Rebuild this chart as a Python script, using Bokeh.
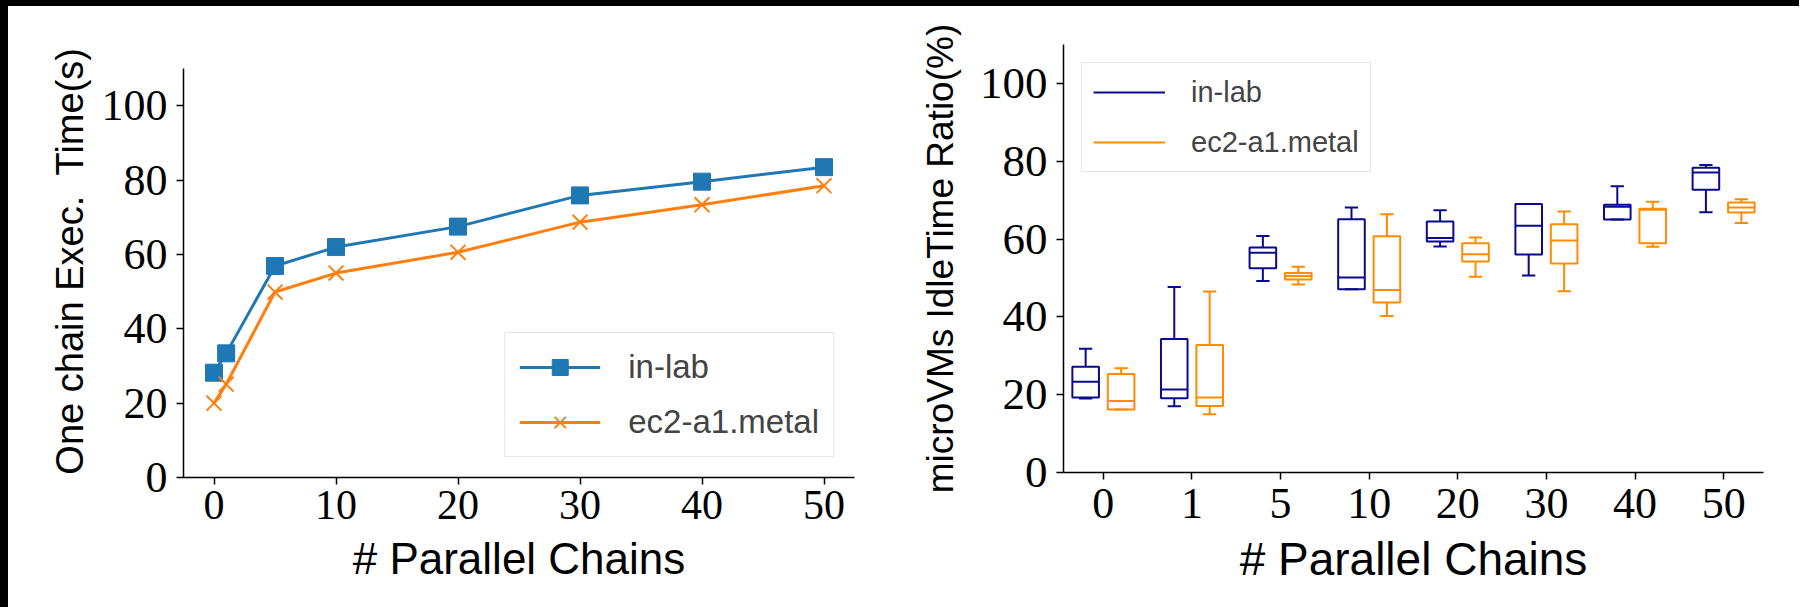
import numpy as np
from bokeh.plotting import figure
from bokeh.models import Range1d, FixedTicker, Legend, LegendItem, ColumnDataSource
from bokeh.layouts import row
from bokeh.embed import file_html
from bokeh.resources import INLINE

# ---------------- data ----------------
# Left chart: one chain execution time (s)
chains = [0, 1, 5, 10, 20, 30, 40, 50]
inlab_time = [28.2, 33.4, 56.9, 62.0, 67.5, 75.9, 79.6, 83.5]
ec2_time = [20.0, 25.1, 49.9, 55.0, 60.6, 68.7, 73.4, 78.5]

# Right chart: microVMs idle time ratio (%) box statistics
categories = ["0", "1", "5", "10", "20", "30", "40", "50"]
inlab_min = [19.0, 17.0, 49.2, 47.1, 58.1, 50.6, 65.0, 66.9]
inlab_q1 = [19.3, 19.1, 52.5, 47.1, 59.4, 56.0, 65.0, 72.7]
inlab_med = [23.3, 21.3, 56.5, 50.1, 60.3, 63.4, 68.3, 77.1]
inlab_q3 = [27.2, 34.3, 57.8, 65.1, 64.5, 69.0, 68.8, 78.3]
inlab_max = [31.8, 47.7, 60.8, 68.1, 67.4, 69.0, 73.6, 79.0]

ec2_min = [16.2, 15.0, 48.3, 40.2, 50.3, 46.6, 58.0, 64.1]
ec2_q1 = [16.2, 17.1, 49.6, 43.7, 54.2, 53.7, 58.9, 66.8]
ec2_med = [18.4, 19.3, 50.5, 46.9, 56.1, 59.6, 67.5, 68.1]
ec2_q3 = [25.3, 32.8, 51.3, 60.7, 58.9, 63.8, 67.8, 69.4]
ec2_max = [26.8, 46.5, 52.9, 66.4, 60.4, 67.1, 69.6, 70.2]

y_ticks = [0, 20, 40, 60, 80, 100]
x_ticks_left = [0, 10, 20, 30, 40, 50]

SERIF = "Liberation Serif"
SANS = "Liberation Sans"


def style_axes(p, tick_size_x, tick_size_y, xlabel_size, ylabel_size, ylabel_standoff, xlabel_standoff):
    for ax in (p.xaxis[0], p.yaxis[0]):
        ax.axis_line_width = 1.5
        ax.axis_line_color = "black"
        ax.major_tick_line_width = 1.5
        ax.major_tick_line_color = "black"
        ax.major_tick_out = 7
        ax.major_tick_in = 0
        ax.minor_tick_line_color = None
        ax.major_label_text_font = SERIF
        ax.major_label_text_color = "black"
        ax.axis_label_text_font = SANS
        ax.axis_label_text_font_style = "normal"
        ax.axis_label_text_color = "black"
    p.xaxis[0].major_label_text_font_size = tick_size_x
    p.yaxis[0].major_label_text_font_size = tick_size_y
    p.xaxis[0].axis_label_text_font_size = xlabel_size
    p.yaxis[0].axis_label_text_font_size = ylabel_size
    p.xaxis[0].major_label_standoff = 6
    p.yaxis[0].major_label_standoff = 9
    p.yaxis[0].axis_label_standoff = ylabel_standoff
    p.xaxis[0].axis_label_standoff = xlabel_standoff
    p.xgrid.visible = False
    p.ygrid.visible = False
    p.outline_line_color = None


TOP = 38

# ---------------- left figure ----------------
p1 = figure(frame_width=671, frame_height=433,
            min_border_left=175, min_border_right=60,
            min_border_top=TOP, min_border_bottom=130,
            x_range=Range1d(-2.5, 52.5), y_range=Range1d(0, 116.5),
            output_backend="svg", toolbar_location=None,
            x_axis_label="# Parallel Chains", y_axis_label="One chain Exec.\u00a0 Time(s)")
p1.xaxis.ticker = FixedTicker(ticks=x_ticks_left)
p1.yaxis.ticker = FixedTicker(ticks=y_ticks)
p1.yaxis.bounds = (0, 110)
style_axes(p1, "42px", "44px", "44px", "38px", 8, 12)

BLUE = "#1f77b4"
ORANGE = "#ff7f0e"
l1 = p1.line(chains, inlab_time, line_color=BLUE, line_width=3)
s1 = p1.scatter(chains, inlab_time, marker="square", size=17, fill_color=BLUE, line_color=BLUE)
l2 = p1.line(chains, ec2_time, line_color=ORANGE, line_width=3)
s2 = p1.scatter(chains, ec2_time, marker="x", size=21, line_color=ORANGE, line_width=2)

leg1 = Legend(items=[LegendItem(label="in-lab", renderers=[l1, s1]),
                     LegendItem(label="ec2-a1.metal", renderers=[l2, s2])],
              location="bottom_right", margin=20,
              label_text_font=SANS, label_text_font_size="33px",
              glyph_width=81, glyph_height=40, label_height=40,
              spacing=15, padding=14, label_standoff=28,
              border_line_color="#cccccc", border_line_width=1.5,
              background_fill_color="white", background_fill_alpha=0.9)
p1.add_layout(leg1)

# ---------------- right figure ----------------
pos = np.arange(1, len(categories) + 1)
p2 = figure(frame_width=700, frame_height=428,
            min_border_left=149, min_border_right=36,
            min_border_top=TOP, min_border_bottom=135,
            x_range=Range1d(0.55, 8.45), y_range=Range1d(0, 110),
            output_backend="svg", toolbar_location=None,
            x_axis_label="# Parallel Chains", y_axis_label="microVMs IdleTime Ratio(%)")
p2.xaxis.ticker = FixedTicker(ticks=[int(v) for v in pos])
p2.xaxis.major_label_overrides = {int(v): c for v, c in zip(pos, categories)}
p2.yaxis.ticker = FixedTicker(ticks=y_ticks)
style_axes(p2, "44px", "45px", "46px", "37px", 16, 12)
p2.xaxis.major_label_standoff = 9

NAVY = "#0a0a8c"
DORANGE = "#ff8c00"
BOX_W = 0.3
CAP_W = 0.15
OFFSET = 0.2

legend_items = []
for name, color, off, lo, q1, med, q3, hi in [
        ("in-lab", NAVY, -OFFSET, inlab_min, inlab_q1, inlab_med, inlab_q3, inlab_max),
        ("ec2-a1.metal", DORANGE, OFFSET, ec2_min, ec2_q1, ec2_med, ec2_q3, ec2_max)]:
    x = pos + off
    src = ColumnDataSource(dict(x=x, left=x - BOX_W / 2, right=x + BOX_W / 2,
                                capl=x - CAP_W / 2, capr=x + CAP_W / 2,
                                lo=lo, q1=q1, med=med, q3=q3, hi=hi))
    kw = dict(source=src, line_color=color, line_width=2)
    p2.quad(left="left", right="right", bottom="q1", top="q3", fill_color=None, **kw)
    p2.segment(x0="left", y0="med", x1="right", y1="med", **kw)
    wr = p2.segment(x0="x", y0="q3", x1="x", y1="hi", **kw)
    p2.segment(x0="x", y0="q1", x1="x", y1="lo", **kw)
    p2.segment(x0="capl", y0="hi", x1="capr", y1="hi", **kw)
    p2.segment(x0="capl", y0="lo", x1="capr", y1="lo", **kw)
    legend_items.append(LegendItem(label=name, renderers=[wr]))

leg2 = Legend(items=legend_items, location="top_left", margin=18,
              label_text_font=SANS, label_text_font_size="29px",
              glyph_width=72, glyph_height=36, label_height=36,
              spacing=14, padding=11, label_standoff=26,
              border_line_color="#cccccc", border_line_width=1.5,
              background_fill_color="white", background_fill_alpha=0.9)
p2.add_layout(leg2)

layout = row(p1, p2, styles={"background-color": "white",
                             "border-left": "8px solid black",
                             "border-top": "6px solid black"})
open("out.html", "w").write(file_html(layout, INLINE))
